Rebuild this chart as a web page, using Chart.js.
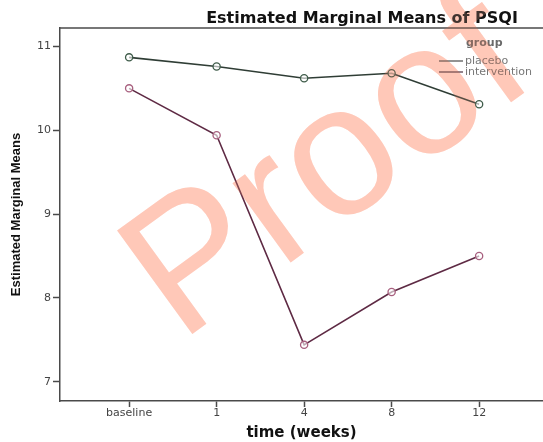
<!DOCTYPE html>
<html><head><meta charset="utf-8">
<script src="https://cdn.jsdelivr.net/npm/chart.js@4.4.0/dist/chart.umd.min.js"></script>
<style>html,body{margin:0;padding:0;background:#fff;overflow:hidden}#wrap{width:543px;height:442px;position:relative}</style>
</head><body><div id="wrap"><canvas id="c" width="543" height="442"></canvas></div>
<script>
const categories = ["baseline", "1", "4", "8", "12"];
const placebo = [10.87, 10.76, 10.62, 10.68, 10.31];
const intervention = [10.50, 9.94, 7.44, 8.07, 8.50];
const yTicks = [7, 8, 9, 10, 11];
const seriesNames = ["placebo", "intervention"];
const legendTitle = "group";
const chartTitle = "Estimated Marginal Means of PSQI";
const xTitle = "time (weeks)";
const yTitle = "Estimated Marginal Means";
const watermark = "Proof";

const AXIS = '#4a4a4a';

const overlay = {
  id: 'overlay',
  afterDraw(chart) {
    const ctx = chart.ctx, a = chart.chartArea;
    ctx.save();
    // top frame line
    ctx.strokeStyle = AXIS; ctx.lineWidth = 1.5;
    ctx.beginPath(); ctx.moveTo(a.left, a.top); ctx.lineTo(chart.width, a.top); ctx.stroke();
    // title
    ctx.fillStyle = '#111';
    ctx.font = 'bold 16px "DejaVu Sans"';
    ctx.textAlign = 'center'; ctx.textBaseline = 'alphabetic';
    ctx.fillText(chartTitle, 362, 22.5);
    // legend
    ctx.fillStyle = '#6a6a6a';
    ctx.font = 'bold 11px "DejaVu Sans"';
    ctx.textAlign = 'left'; ctx.textBaseline = 'middle';
    ctx.fillText(legendTitle, 466, 43);
    ctx.font = '11px "DejaVu Sans"';
    const ly = [61, 72];
    const lc = ['#6f6f6f', '#6f5a66'];
    seriesNames.forEach((n, i) => {
      ctx.strokeStyle = lc[i]; ctx.lineWidth = 1.5;
      ctx.beginPath(); ctx.moveTo(439, ly[i]); ctx.lineTo(463, ly[i]); ctx.stroke();
      ctx.fillStyle = '#777';
      ctx.fillText(n, 465, ly[i]);
    });
    // watermark (multiplied so dark marks stay dark)
    ctx.translate(180, 343);
    ctx.rotate(-36 * Math.PI / 180);
    ctx.font = '186px "Liberation Sans"';
    ctx.textAlign = 'left'; ctx.textBaseline = 'alphabetic';
    ctx.globalCompositeOperation = 'multiply';
    ctx.fillStyle = 'rgb(255,200,184)';
    ctx.fillText(watermark, 0, 0);
    ctx.globalCompositeOperation = 'source-over';
    ctx.fillStyle = 'rgba(255,200,184,0.2)';
    ctx.fillText(watermark, 0, 0);
    ctx.restore();
  }
};

const pts = arr => arr.map((v, i) => ({ x: i, y: v }));

new Chart(document.getElementById('c'), {
  type: 'line',
  data: {
    datasets: [
      {
        label: seriesNames[0], data: pts(placebo),
        borderColor: '#2f3d35', borderWidth: 1.6,
        pointRadius: 3.6, pointBorderWidth: 1.3,
        pointBorderColor: '#3f5c4a', pointBackgroundColor: 'rgba(255,255,255,0.6)',
        tension: 0
      },
      {
        label: seriesNames[1], data: pts(intervention),
        borderColor: '#5e2a44', borderWidth: 1.6,
        pointRadius: 3.6, pointBorderWidth: 1.3,
        pointBorderColor: '#a8607f', pointBackgroundColor: 'rgba(255,255,255,0.6)',
        tension: 0
      }
    ]
  },
  options: {
    responsive: false, animation: false,
    layout: { autoPadding: false, padding: { top: 28, left: 0, right: 0, bottom: 0 } },
    plugins: { legend: { display: false }, title: { display: false }, tooltip: { enabled: false } },
    scales: {
      x: {
        type: 'linear', min: -0.79, max: 4.73,
        afterBuildTicks: s => { s.ticks = categories.map((c, i) => ({ value: i })); },
        afterFit: s => { s.height = 41; },
        ticks: { callback: v => categories[v], color: '#444', font: { family: 'DejaVu Sans', size: 11 }, padding: 0, maxRotation: 0, autoSkip: false },
        grid: { display: true, drawOnChartArea: false, drawTicks: true, tickLength: 6, tickColor: AXIS, tickWidth: 1.5 },
        border: { display: true, color: AXIS, width: 1.5 },
        title: { display: true, text: xTitle, color: '#111', font: { family: 'DejaVu Sans', size: 15, weight: 'bold' }, padding: { top: 0, bottom: 0 } }
      },
      y: {
        min: 6.77, max: 11.22,
        afterBuildTicks: s => { s.ticks = yTicks.map(v => ({ value: v })); },
        afterFit: s => { s.width = 60; },
        ticks: { color: '#444', font: { family: 'DejaVu Sans', size: 11 }, padding: 2 },
        grid: { display: true, drawOnChartArea: false, drawTicks: true, tickLength: 7, tickColor: AXIS, tickWidth: 1.5 },
        border: { display: true, color: AXIS, width: 1.5 },
        title: { display: true, text: yTitle, color: '#111', font: { family: 'Liberation Sans', size: 13, weight: 'bold' }, padding: { top: 9, bottom: 0 } }
      }
    }
  },
  plugins: [overlay]
});
</script>
</body></html>
